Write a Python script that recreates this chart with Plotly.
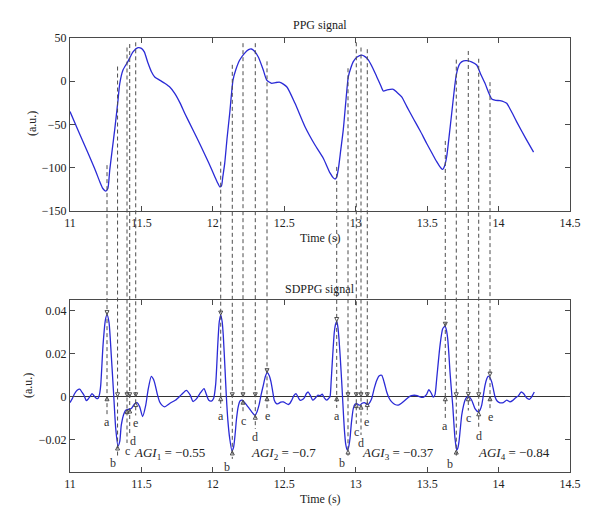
import plotly.graph_objects as go

# ---------------- data ----------------
ppg_t = [11.00, 11.06, 11.126, 11.18, 11.208, 11.23, 11.25, 11.265, 11.278, 11.295, 11.313, 11.336,
         11.348, 11.371, 11.406, 11.441, 11.476, 11.50, 11.52, 11.546, 11.57, 11.593, 11.63, 11.663,
         11.70, 11.733, 11.77, 11.803, 11.86, 11.919, 11.97, 12.013, 12.035, 12.048, 12.06, 12.07,
         12.083, 12.10, 12.118, 12.141, 12.16, 12.188, 12.22, 12.25, 12.27, 12.29, 12.318, 12.353,
         12.377, 12.412, 12.44, 12.47, 12.517, 12.575, 12.645, 12.715, 12.773, 12.82, 12.845, 12.857,
         12.868, 12.878, 12.895, 12.913, 12.93, 12.948, 12.965, 12.983, 13.01, 13.042, 13.065, 13.088,
         13.12, 13.147, 13.175, 13.193, 13.22, 13.263, 13.29, 13.322, 13.357, 13.403, 13.45, 13.497,
         13.54, 13.567, 13.595, 13.609, 13.622, 13.637, 13.655, 13.672, 13.69, 13.702, 13.715, 13.73,
         13.755, 13.777, 13.81, 13.847, 13.875, 13.905, 13.93, 13.952, 13.98, 14.01, 14.04, 14.057,
         14.09, 14.127, 14.19, 14.245]
ppg_v = [-35, -58, -83, -104, -116, -124, -127, -124, -103, -80, -56, -22,
         -3, 13, 23, 34, 38.8, 38, 34, 21, 11, 5, 1, -2.4,
         -7, -14, -25, -37, -56, -76, -94, -110, -118, -122, -121, -110,
         -95, -65, -37, 1.4, 13, 24.6, 32, 36.5, 37.3, 35, 28, 13,
         1.4, -2.4, -1.5, -1.2, -6.3, -25.5, -52.5, -73.7, -89, -106, -112, -113,
         -110, -102, -80, -56, -25, 5, 15, 22.6, 28, 30.3, 28.5, 24.6,
         15, 5.3, -5, -11.3, -10, -9.3, -13, -18, -29, -43, -57, -72,
         -85, -93, -100, -102, -98, -87, -62, -37, -10, 5.3, 15, 20.7,
         23.5, 23.8, 22.5, 18.8, 8, -2.4, -13, -20.5, -22, -22.5, -24, -25.5,
         -35, -47, -66, -82]

sd_t = [11.00, 11.015, 11.033, 11.05, 11.068, 11.085, 11.098, 11.114, 11.128, 11.138, 11.154, 11.165,
        11.173, 11.185, 11.196, 11.206, 11.215, 11.231, 11.247, 11.259, 11.273, 11.289, 11.306, 11.32,
        11.336, 11.348, 11.359, 11.378, 11.392, 11.406, 11.429, 11.453, 11.469, 11.488, 11.508, 11.53,
        11.546, 11.569, 11.585, 11.597, 11.612, 11.628, 11.645, 11.663, 11.70, 11.74, 11.78, 11.814,
        11.84, 11.861, 11.885, 11.915, 11.938, 11.955, 11.97, 11.99, 12.005, 12.02, 12.035, 12.045,
        12.055, 12.065, 12.073, 12.085, 12.094, 12.105, 12.118, 12.134, 12.145, 12.155, 12.166, 12.178,
        12.19, 12.206, 12.22, 12.237, 12.255, 12.272, 12.295, 12.31, 12.323, 12.338, 12.353, 12.368,
        12.381, 12.395, 12.407, 12.42, 12.43, 12.445, 12.458, 12.475, 12.493, 12.51, 12.528, 12.54,
        12.552, 12.567, 12.582, 12.595, 12.61, 12.625, 12.64, 12.655, 12.668, 12.683, 12.699, 12.715,
        12.734, 12.75, 12.766, 12.78, 12.797, 12.81, 12.82, 12.828, 12.836, 12.85, 12.858, 12.867,
        12.875, 12.883, 12.892, 12.902, 12.91, 12.92, 12.93, 12.941, 12.95, 12.96, 12.97, 12.983,
        12.995, 13.007, 13.02, 13.03, 13.045, 13.06, 13.075, 13.088, 13.10, 13.112, 13.13, 13.147,
        13.165, 13.182, 13.20, 13.217, 13.235, 13.252, 13.275, 13.298, 13.32, 13.345, 13.37, 13.39,
        13.41, 13.43, 13.455, 13.475, 13.495, 13.512, 13.53, 13.543, 13.555, 13.567, 13.59, 13.609,
        13.625, 13.635, 13.644, 13.652, 13.66, 13.67, 13.679, 13.695, 13.707, 13.715, 13.723, 13.732,
        13.742, 13.755, 13.765, 13.777, 13.788, 13.80, 13.812, 13.825, 13.835, 13.858, 13.87, 13.882,
        13.893, 13.905, 13.918, 13.928, 13.94, 13.952, 13.965, 13.975, 13.99, 14.01, 14.033, 14.057,
        14.08, 14.10, 14.12, 14.14, 14.157, 14.175, 14.197, 14.215, 14.232, 14.25]
sd_v = [-0.0027, -0.001, 0.0015, 0.003, 0.0035, 0.002, 0.0007, -0.0018, -0.001, -0.0001, 0.0015, 0.0007,
        0.0, -0.0008, -0.0008, 0.001, 0.0053, 0.0238, 0.0354, 0.0382, 0.0346, 0.0192, 0.0007, -0.0147,
        -0.0229, -0.0209, -0.0132, -0.0078, -0.0062, -0.0059, -0.0055, -0.0032, -0.0027, -0.0047, -0.0092, -0.004,
        0.003, 0.0095, 0.008, 0.0053, 0.001, -0.0024, -0.004, -0.0047, -0.003, -0.0015, 0.001, 0.003,
        0.001, -0.0022, -0.001, 0.002, 0.0038, 0.001, -0.0015, -0.002, -0.0008, 0.006, 0.025, 0.035,
        0.038, 0.035, 0.0285, 0.013, 0.0007, -0.011, -0.0194, -0.0252, -0.0235, -0.018, -0.010, -0.0045,
        -0.002, -0.0016, -0.0025, -0.0039, -0.0055, -0.007, -0.0086, -0.0068, -0.0039, 0.001, 0.0053, 0.0095,
        0.0112, 0.0098, 0.0069, 0.002, -0.0016, -0.0032, -0.0032, -0.0025, -0.0024, -0.003, -0.0036, -0.003,
        -0.0016, 0.0005, 0.0015, 0.0, -0.0016, -0.0014, -0.0005, 0.0015, 0.0022, 0.0005, -0.0016, -0.0008,
        0.0007, 0.0005, 0.0012, -0.0005, -0.0016, -0.0008, 0.0, 0.007, 0.0161, 0.030, 0.0335, 0.035,
        0.0325, 0.0269, 0.018, 0.0069, -0.003, -0.0147, -0.022, -0.0248, -0.0235, -0.0194, -0.012, -0.0055,
        -0.0035, -0.0032, -0.0038, -0.0039, -0.003, -0.0027, -0.0033, -0.0036, -0.0025, -0.0008, 0.004, 0.0076,
        0.0098, 0.010, 0.0065, 0.0022, -0.0008, -0.0024, -0.0036, -0.0039, -0.003, -0.0016, -0.0002, 0.0005,
        0.0007, 0.0005, -0.0002, -0.0002, 0.001, 0.0033, 0.0015, -0.0002, 0.001, 0.0084, 0.0238, 0.0316,
        0.0328, 0.031, 0.0269, 0.020, 0.0115, 0.003, -0.0039, -0.0194, -0.0248, -0.0238, -0.0209, -0.015,
        -0.0086, -0.004, -0.0016, -0.0002, 0.0002, -0.0004, -0.0016, -0.0038, -0.0055, -0.007, -0.0062, -0.0039,
        0.0005, 0.0053, 0.0085, 0.0096, 0.0088, 0.0069, 0.003, 0.0, -0.002, -0.0028, -0.0027, -0.0016,
        -0.0024, -0.0017, -0.0005, 0.0005, 0.0022, 0.0015, -0.0006, -0.0012, 0.0, 0.0022]

point_names = ["a", "b", "c", "d", "e"]
# fiducial times per beat (a..e)
beat1_t = [11.259, 11.333, 11.399, 11.418, 11.460]
beat2_t = [12.055, 12.136, 12.211, 12.297, 12.379]
beat3_t = [12.867, 12.946, 13.004, 13.037, 13.081]
beat4_t = [13.627, 13.704, 13.788, 13.861, 13.940]
# SDPPG values at fiducials (a..e)
beat1_v = [0.0382, -0.0229, -0.0060, -0.0057, -0.0027]
beat2_v = [0.0380, -0.0252, -0.0016, -0.0086, 0.0112]
beat3_v = [0.0350, -0.0248, -0.0032, -0.0039, -0.0027]
beat4_v = [0.0328, -0.0248, 0.0002, -0.0070, 0.0096]
agi_values = ["−0.55", "−0.7", "−0.37", "−0.84"]

# ---------------- layout helpers (placement only) ----------------
beats_t = [beat1_t, beat2_t, beat3_t, beat4_t]
beats_v = [beat1_v, beat2_v, beat3_v, beat4_v]
# upper ends of guide lines in the PPG panel (a.u.)
line_top = [[-97, 17, 39, 43, 45], [-93, 19, 44, 44, 23],
            [-99, 15, 45, 39, 37], [-69, 25, 35, 26, -1]]
# letter label positions in the SDPPG panel
label_y = [[-0.0119, -0.0310, -0.0251, -0.0206, -0.0123],
           [-0.0088, -0.0325, -0.0113, -0.0186, -0.0089],
           [-0.0088, -0.0310, -0.0162, -0.0214, -0.0119],
           [-0.0135, -0.0314, -0.0100, -0.0181, -0.0093]]
label_dx = [[0, -5, 0, 3, 0], [0, -5, 0, 0, 0], [0, -6, 0, 0, -1], [0, -6, 0, 0, 0]]
agi_pos = [(11.697, -0.0263), (12.496, -0.0263), (13.295, -0.0263), (14.111, -0.0263)]

TOP_DOM = [0.6014, 1.0]
BOT_DOM = [0.0, 0.3963]
TOP_RNG = [-150, 50]
BOT_RNG = [-0.035, 0.045]


def paper_top(v):
    return TOP_DOM[0] + (v - TOP_RNG[0]) / (TOP_RNG[1] - TOP_RNG[0]) * (TOP_DOM[1] - TOP_DOM[0])


def paper_bot(v):
    return BOT_DOM[0] + (v - BOT_RNG[0]) / (BOT_RNG[1] - BOT_RNG[0]) * (BOT_DOM[1] - BOT_DOM[0])


FONT = "Liberation Serif, Times New Roman, serif"
CURVE = "#2a2ad6"
GUIDE = "#4d4d4d"
AX = "#4a4a4a"

fig = go.Figure()
fig.add_trace(go.Scatter(x=ppg_t, y=ppg_v, mode="lines", xaxis="x", yaxis="y",
                         line=dict(color=CURVE, width=1.3, shape="spline", smoothing=0.6),
                         showlegend=False, hoverinfo="skip"))
fig.add_trace(go.Scatter(x=sd_t, y=sd_v, mode="lines", xaxis="x2", yaxis="y2",
                         line=dict(color=CURVE, width=1.3, shape="spline", smoothing=0.6),
                         showlegend=False, hoverinfo="skip"))

shapes = []
annotations = []
down_x, down_y, up_x, up_y = [], [], [], []
for bi in range(4):
    for pi in range(5):
        t = beats_t[bi][pi]
        v = beats_v[bi][pi]
        ly = label_y[bi][pi]
        shapes.append(dict(type="line", xref="x", yref="paper",
                           x0=t, x1=t, y0=paper_top(line_top[bi][pi]), y1=paper_bot(ly + 0.0036),
                           line=dict(color=GUIDE, width=1, dash="4px,3px"), layer="above"))
        down_x.append(t); down_y.append(max(v, 0))
        up_x.append(t); up_y.append(min(v, 0))
        annotations.append(dict(x=t, y=ly, xref="x2", yref="y2", text=point_names[pi],
                                showarrow=False, xshift=label_dx[bi][pi],
                                font=dict(family=FONT, size=12, color="#333333")))
    annotations.append(dict(x=agi_pos[bi][0], y=agi_pos[bi][1], xref="x2", yref="y2",
                            text="<i>AGI</i><sub>%d</sub> = %s" % (bi + 1, agi_values[bi]),
                            showarrow=False, font=dict(family=FONT, size=13, color="#222222")))

fig.add_trace(go.Scatter(x=down_x, y=down_y, mode="markers", xaxis="x2", yaxis="y2",
                         marker=dict(symbol="arrow-down-open", size=4, color=GUIDE,
                                     line=dict(color=GUIDE, width=1)),
                         showlegend=False, hoverinfo="skip"))
fig.add_trace(go.Scatter(x=up_x, y=up_y, mode="markers", xaxis="x2", yaxis="y2",
                         marker=dict(symbol="arrow-up-open", size=4, color=GUIDE,
                                     line=dict(color=GUIDE, width=1)),
                         showlegend=False, hoverinfo="skip"))

# titles
for txt, x, y, ang in [("PPG signal", 0.5, 1.03, 0), ("Time (s)", 0.5, 0.539, 0),
                       ("SDPPG signal", 0.5, 0.4217, 0), ("Time (s)", 0.5, -0.0622, 0),
                       ("(a.u.)", -0.076, 0.8018, -90), ("(a.u.)", -0.084, 0.198, -90)]:
    annotations.append(dict(x=x, y=y, xref="paper", yref="paper", text=txt, showarrow=False,
                            textangle=ang, xanchor="center", yanchor="middle",
                            font=dict(family=FONT, size=12, color="#222222")))

axis_common = dict(showline=True, linecolor=AX, linewidth=1.3, mirror="ticks",
                   ticks="inside", ticklen=5, tickcolor=AX, tickwidth=1,
                   showgrid=False, zeroline=False,
                   tickfont=dict(family=FONT, size=12, color="#222222"))

fig.update_layout(
    width=600, height=528,
    margin=dict(l=62, r=38, t=30, b=64),
    paper_bgcolor="white", plot_bgcolor="white",
    xaxis=dict(domain=[0, 1], range=[11, 14.5], dtick=0.5, tick0=11, anchor="y", **axis_common),
    yaxis=dict(domain=TOP_DOM, range=TOP_RNG, dtick=50, tick0=0, anchor="x", **axis_common),
    xaxis2=dict(domain=[0, 1], range=[11, 14.5], dtick=0.5, tick0=11, anchor="y2", **axis_common),
    yaxis2=dict(domain=BOT_DOM, range=BOT_RNG, tickvals=[-0.02, 0, 0.02, 0.04],
                ticktext=["−0.02", "0", "0.02", "0.04"], anchor="x2",
                **{k: v for k, v in axis_common.items() if k != "zeroline"},
                zeroline=True, zerolinecolor="#333333", zerolinewidth=1.2),
    shapes=shapes,
    annotations=annotations,
)

fig.write_html("out.html")
